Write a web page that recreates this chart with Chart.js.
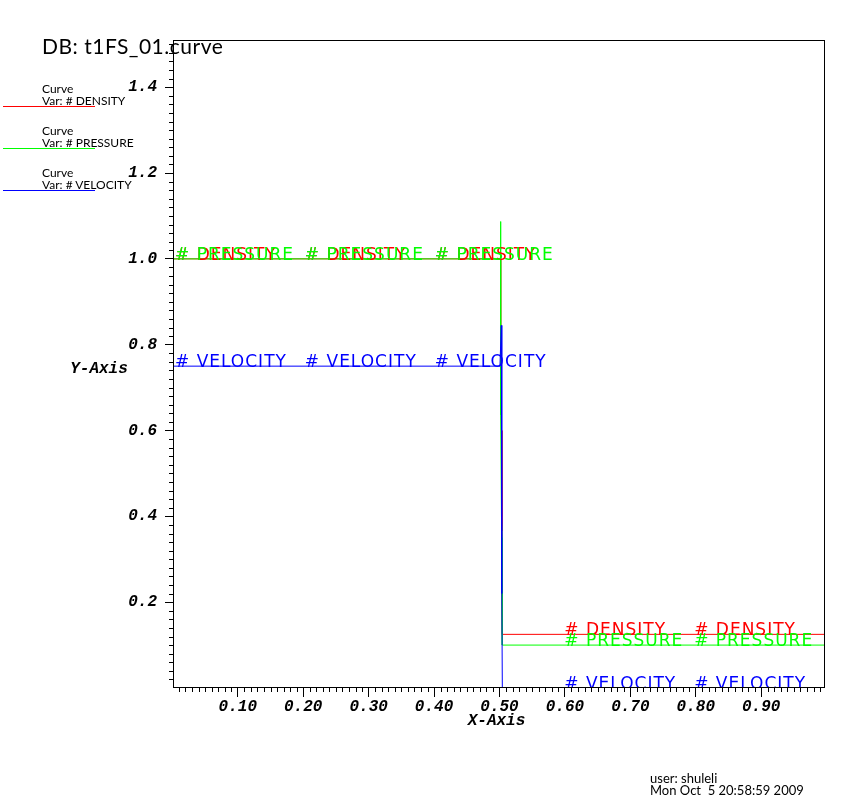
<!DOCTYPE html>
<html>
<head>
<meta charset="utf-8">
<script src="https://cdn.jsdelivr.net/npm/chart.js@4.4.0/dist/chart.umd.min.js"></script>
<style>
  body { margin: 0; background: #fff; }
  #wrap { position: relative; width: 868px; height: 809px; }
  canvas { position: absolute; left: 0; top: 0; }
  .txt { position: absolute; font-family: Lato, sans-serif; color: #000; white-space: pre; line-height: 1; }
  .swatch { position: absolute; left: 3px; width: 92px; height: 1px; }
</style>
</head>
<body>
<div id="wrap">
  <canvas id="curveChart" width="868" height="809"></canvas>

  <div class="txt" style="left:42px; top:35px; font-size:21px; letter-spacing:0.5px;">DB: t1FS_01.curve</div>

  <div class="txt" style="left:42px; top:83px; font-size:12px;">Curve</div>
  <div class="txt" style="left:42px; top:95px; font-size:12px;">Var: # DENSITY</div>
  <div class="swatch" style="top:106px; background:#ff0000;"></div>

  <div class="txt" style="left:42px; top:125px; font-size:12px;">Curve</div>
  <div class="txt" style="left:42px; top:137px; font-size:12px;">Var: # PRESSURE</div>
  <div class="swatch" style="top:148px; background:#00ff00;"></div>

  <div class="txt" style="left:42px; top:167px; font-size:12px;">Curve</div>
  <div class="txt" style="left:42px; top:179px; font-size:12px;">Var: # VELOCITY</div>
  <div class="swatch" style="top:190px; background:#0000ff;"></div>

  <div class="txt" style="left:650px; top:772px; font-size:13px;">user: shuleli</div>
  <div class="txt" style="left:650px; top:784px; font-size:13px;">Mon Oct  5 20:58:59 2009</div>
</div>

<script>
// axis ranges and ticks
const xMin = 0.0025, xMax = 0.9975;
const yMin = 0, yMax = 1.51;
const xTicks = [0.1, 0.2, 0.3, 0.4, 0.5, 0.6, 0.7, 0.8, 0.9];
const yTicks = [0.2, 0.4, 0.6, 0.8, 1.0, 1.2, 1.4];
const xMinorStep = 0.01;
const yMinorStep = 0.02;

// curves
const densityX = [0.0025, 0.5018, 0.5018, 0.5030, 0.5038, 0.5040, 0.5043, 0.9975];
const densityY = [1.0, 1.0, 0.846, 0.60, 0.366, 0.35, 0.125, 0.125];

const pressureX = [0.0025, 0.5018, 0.5018, 0.5018, 0.5030, 0.5040, 0.5040, 0.5043, 0.9975];
const pressureY = [1.0, 1.0, 1.087, 0.636, 0.40, 0.35, 0.22, 0.1, 0.1];

const velocityX = [0.0025, 0.5007, 0.5027, 0.5033, 0.5038, 0.5043, 0.9975];
const velocityY = [0.75, 0.75, 0.845, 0.636, 0.22, 0.0, 0.0];

// where the curve names are written along each curve
const labelX = [0.004, 0.2025, 0.401, 0.599, 0.7975, 0.9955];

const curves = [
  { name: '# DENSITY', color: '#ff0000', xs: densityX, ys: densityY },
  { name: '# PRESSURE', color: '#00ff00', xs: pressureX, ys: pressureY },
  { name: '# VELOCITY', color: '#0000ff', xs: velocityX, ys: velocityY }
];

function valueAt(xs, ys, x) {
  let v = ys[0];
  for (let i = 0; i < xs.length; i++) {
    if (xs[i] <= x) v = ys[i];
  }
  return v;
}

const axisFont = { family: "'Liberation Mono', 'DejaVu Sans Mono', monospace", style: 'italic', weight: 'bold', size: 16 };

const curveDecor = {
  id: 'curveDecor',
  afterDatasetsDraw(chart) {
    const ctx = chart.ctx;
    const a = chart.chartArea;
    const xs = chart.scales.x, ys = chart.scales.y;

    // curve name labels
    ctx.save();
    ctx.beginPath();
    ctx.rect(a.left, a.top, a.right - a.left, a.bottom - a.top);
    ctx.clip();
    ctx.font = '17px "DejaVu Sans"';
    ctx.letterSpacing = '1px';
    ctx.textAlign = 'left';
    ctx.textBaseline = 'alphabetic';
    curves.forEach(c => {
      ctx.fillStyle = c.color;
      labelX.forEach(lx => {
        ctx.fillText(c.name, xs.getPixelForValue(lx), ys.getPixelForValue(valueAt(c.xs, c.ys, lx)) + 1);
      });
    });
    ctx.restore();

    // frame
    ctx.save();
    ctx.strokeStyle = '#000';
    ctx.lineWidth = 1;
    ctx.strokeRect(a.left - 0.5, a.top + 0.5, a.right - a.left, a.bottom - a.top - 1);

    // minor ticks
    ctx.beginPath();
    for (let i = 1; i * xMinorStep < xMax; i++) {
      if (i % 10 === 0) continue;
      const px = Math.round(xs.getPixelForValue(i * xMinorStep)) + 0.5;
      ctx.moveTo(px, a.bottom);
      ctx.lineTo(px, a.bottom + 4);
    }
    for (let i = 1; i * yMinorStep < yMax; i++) {
      if (i % 10 === 0) continue;
      const py = Math.round(ys.getPixelForValue(i * yMinorStep)) + 0.5;
      ctx.moveTo(a.left, py);
      ctx.lineTo(a.left - 5, py);
    }
    ctx.stroke();

    // axis titles
    ctx.fillStyle = '#000';
    ctx.font = 'italic bold 16px "Liberation Mono"';
    ctx.textAlign = 'center';
    ctx.textBaseline = 'alphabetic';
    ctx.fillText('X-Axis', (a.left + a.right) / 2 - 3, a.bottom + 37);
    ctx.fillText('Y-Axis', a.left - 75, (a.top + a.bottom) / 2 + 9);
    ctx.restore();
  }
};

const ctx = document.getElementById('curveChart').getContext('2d');
new Chart(ctx, {
  type: 'scatter',
  data: {
    // later curves sit on top: velocity over pressure over density
    datasets: curves.map((c, i) => ({
      label: c.name,
      data: c.xs.map((x, j) => ({ x: x, y: c.ys[j] })),
      showLine: true,
      borderColor: c.color,
      backgroundColor: c.color,
      borderWidth: 1,
      pointRadius: 0,
      tension: 0,
      clip: 0,
      order: curves.length - 1 - i
    }))
  },
  options: {
    responsive: false,
    animation: false,
    devicePixelRatio: 1,
    layout: { padding: { left: 0, top: 40, right: 43, bottom: 61 } },
    plugins: { legend: { display: false }, tooltip: { enabled: false } },
    scales: {
      x: {
        type: 'linear',
        min: xMin,
        max: xMax,
        afterBuildTicks: s => { s.ticks = xTicks.map(v => ({ value: v })); },
        afterFit: s => { s.height = 60; },
        grid: { drawOnChartArea: false, drawTicks: true, tickLength: 9, tickColor: '#000' },
        border: { display: false },
        ticks: { color: '#000', font: axisFont, padding: 0, maxRotation: 0, autoSkip: false,
                 callback: v => Number(v).toFixed(2) }
      },
      y: {
        type: 'linear',
        min: yMin,
        max: yMax,
        afterBuildTicks: s => { s.ticks = yTicks.map(v => ({ value: v })); },
        afterFit: s => { s.width = 174; },
        grid: { drawOnChartArea: false, drawTicks: true, tickLength: 9, tickColor: '#000' },
        border: { display: false },
        ticks: { color: '#000', font: axisFont, padding: 8, autoSkip: false,
                 callback: v => Number(v).toFixed(1) }
      }
    }
  },
  plugins: [curveDecor]
});
</script>
</body>
</html>
